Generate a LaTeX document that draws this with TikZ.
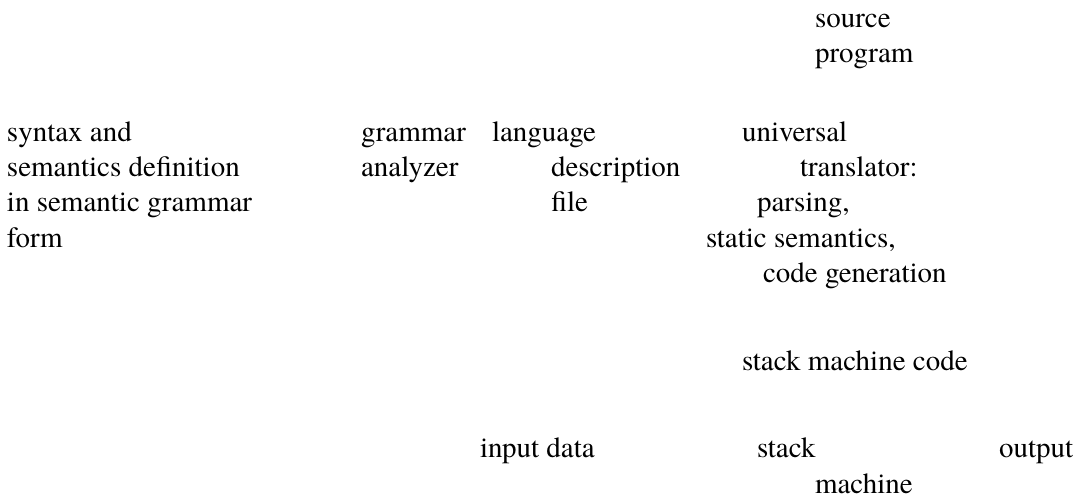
\documentclass[tikz,border=0pt]{standalone}
\usepackage{fontspec}
\setmainfont{texgyretermes-regular.otf}
\begin{document}
\begin{tikzpicture}[x=0.75pt,y=-0.75pt,
  lbl/.style={anchor=base west,inner sep=0pt,outer sep=0pt,font=\fontsize{21.75pt}{26.4pt}\selectfont}]
\useasboundingbox (0,0) rectangle (1077,500);
% source program
\node[lbl] (src1) at (815,27) {source};
\node[lbl] (src2) at (815,62) {program};
% syntax and semantics definition
\node[lbl] (def1) at (7,141) {syntax and};
\node[lbl] (def2) at (7,176) {semantics definition};
\node[lbl] (def3) at (7,211) {in semantic grammar};
\node[lbl] (def4) at (7,247) {form};
% grammar analyzer
\node[lbl] (ga1) at (361,141) {grammar};
\node[lbl] (ga2) at (361,176) {analyzer};
% language description file
\node[lbl] (ldf1) at (492,141) {language};
\node[lbl] (ldf2) at (551,176) {description};
\node[lbl] (ldf3) at (551,211) {file};
% universal translator
\node[lbl] (ut1) at (742,141) {universal};
\node[lbl] (ut2) at (800,176) {translator:};
\node[lbl] (ut3) at (757,211) {parsing,};
\node[lbl] (ut4) at (706,247) {static semantics,};
\node[lbl] (ut5) at (763,282) {code generation};
% stack machine code
\node[lbl] (smc) at (742,370) {stack machine code};
% bottom row
\node[lbl] (in) at (480,457) {input data};
\node[lbl] (sm1) at (757,457) {stack};
\node[lbl] (sm2) at (815,493) {machine};
\node[lbl] (out) at (999,457) {output};
\end{tikzpicture}
\end{document}
